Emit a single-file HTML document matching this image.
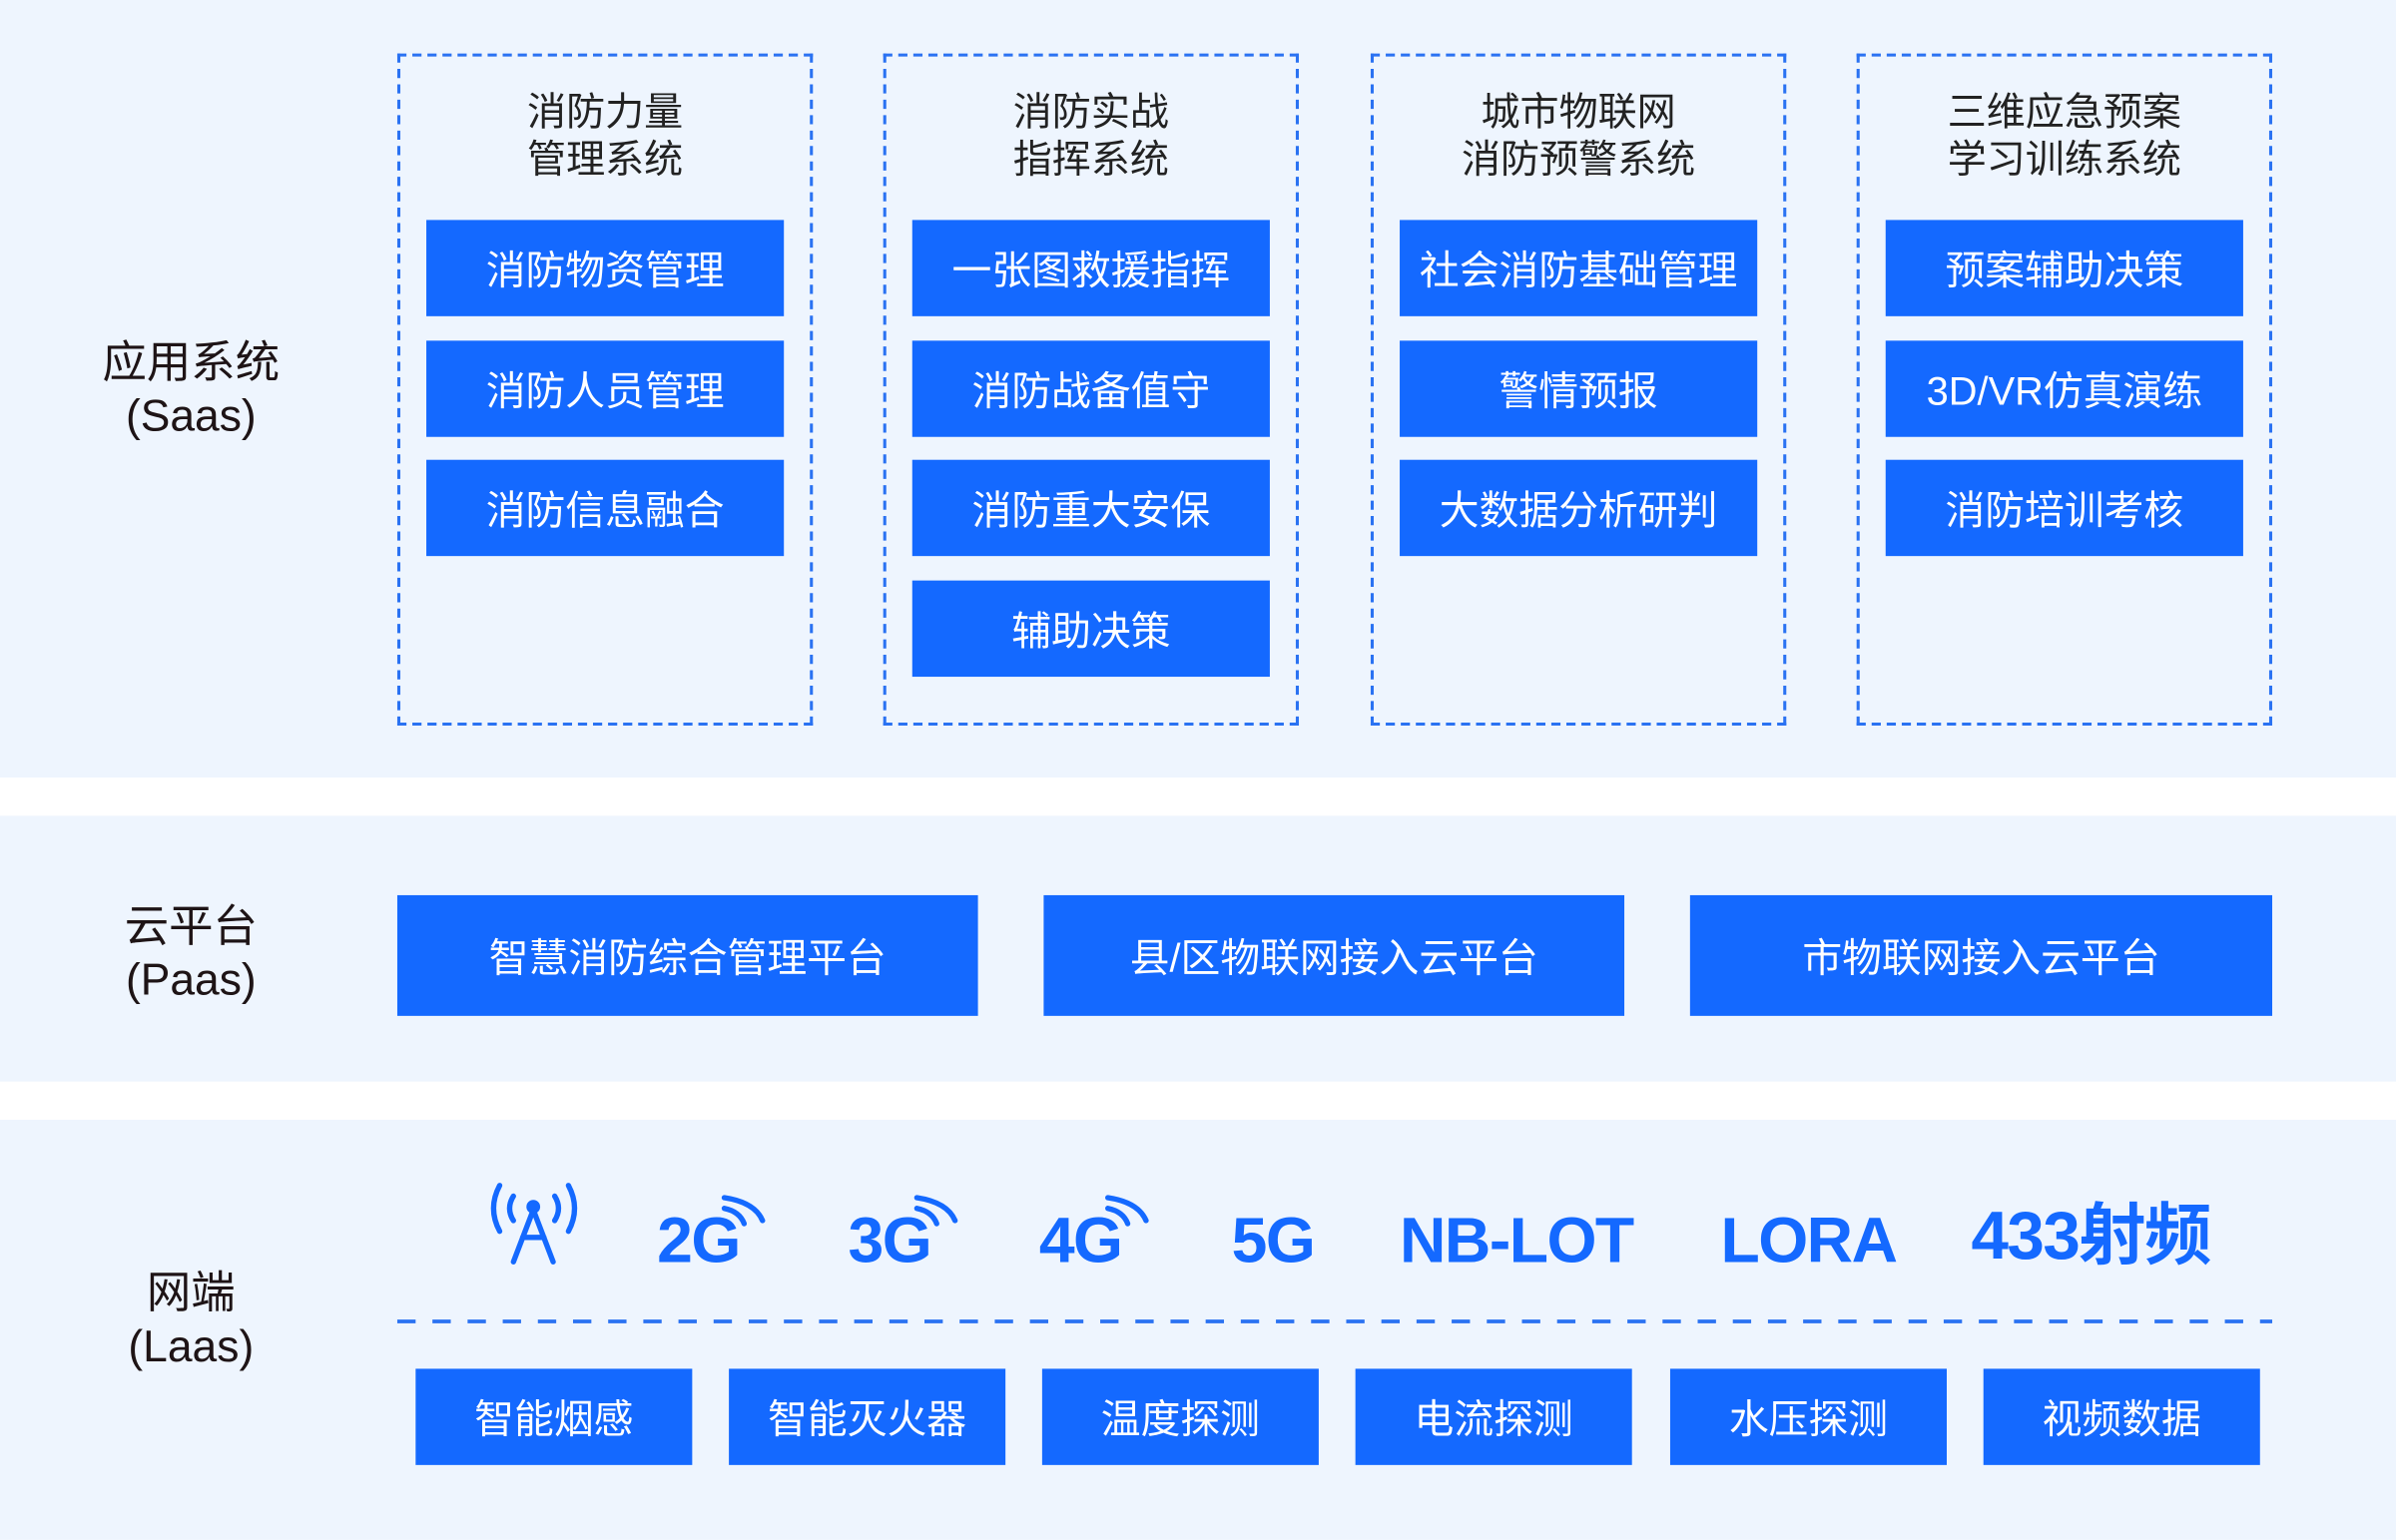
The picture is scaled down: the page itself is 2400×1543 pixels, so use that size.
<!DOCTYPE html>
<html><head><meta charset="utf-8"><style>
*{margin:0;padding:0;box-sizing:border-box}
html,body{width:2400px;height:1542px;overflow:hidden;background:#fff}
#w{position:absolute;left:0;top:0;width:1568px;height:1008px;transform:scale(1.53061);transform-origin:0 0;font-family:"Liberation Sans","Noto Sans CJK SC",sans-serif}
.band{position:absolute;left:0;width:1568px;background:#eef5fe}
.lab{position:absolute;left:35px;width:180px;text-align:center;color:#1e1416;font-size:29px;line-height:35px}
.dash{position:absolute;top:35px;width:272px;height:440px;border:2px dashed #2a72f2}
.tt{position:absolute;left:0;width:100%;top:22px;text-align:center;font-size:25.5px;line-height:31px;color:#222}
.b{position:absolute;background:#1469ff;color:#fff;display:flex;align-items:center;justify-content:center;font-size:26px;white-space:nowrap}
.n{position:absolute;top:786px;color:#1469ff;font-weight:bold;font-size:42px;line-height:52px;white-space:nowrap;letter-spacing:-1px}
</style></head><body><div id="w">
<div class="band" style="top:0;height:509px"></div>
<div class="band" style="top:534px;height:174px"></div>
<div class="band" style="top:733px;height:275px"></div>

<div class="lab" style="top:221px">应用系统<br>(Saas)</div>
<div class="lab" style="top:590px">云平台<br>(Paas)</div>
<div class="lab" style="top:830px">网端<br>(Laas)</div>

<div class="dash" style="left:260px"><div class="tt">消防力量<br>管理系统</div></div>
<div class="dash" style="left:578px"><div class="tt">消防实战<br>指挥系统</div></div>
<div class="dash" style="left:897px"><div class="tt">城市物联网<br>消防预警系统</div></div>
<div class="dash" style="left:1215px"><div class="tt">三维应急预案<br>学习训练系统</div></div>

<div class="b" style="left:279px;top:144px;width:234px;height:63px">消防物资管理</div>
<div class="b" style="left:279px;top:223px;width:234px;height:63px">消防人员管理</div>
<div class="b" style="left:279px;top:301px;width:234px;height:63px">消防信息融合</div>

<div class="b" style="left:597px;top:144px;width:234px;height:63px">一张图救援指挥</div>
<div class="b" style="left:597px;top:223px;width:234px;height:63px">消防战备值守</div>
<div class="b" style="left:597px;top:301px;width:234px;height:63px">消防重大安保</div>
<div class="b" style="left:597px;top:380px;width:234px;height:63px">辅助决策</div>

<div class="b" style="left:916px;top:144px;width:234px;height:63px">社会消防基础管理</div>
<div class="b" style="left:916px;top:223px;width:234px;height:63px">警情预报</div>
<div class="b" style="left:916px;top:301px;width:234px;height:63px">大数据分析研判</div>

<div class="b" style="left:1234px;top:144px;width:234px;height:63px">预案辅助决策</div>
<div class="b" style="left:1234px;top:223px;width:234px;height:63px">3D/VR仿真演练</div>
<div class="b" style="left:1234px;top:301px;width:234px;height:63px">消防培训考核</div>

<div class="b" style="left:260px;top:586px;width:380px;height:79px">智慧消防综合管理平台</div>
<div class="b" style="left:683px;top:586px;width:380px;height:79px">县/区物联网接入云平台</div>
<div class="b" style="left:1106px;top:586px;width:381px;height:79px">市物联网接入云平台</div>

<svg style="position:absolute;left:0;top:0" width="1568" height="1008">
<g fill="none" stroke="#1469ff" stroke-width="3.5" stroke-linecap="round">
<path d="M327 776 Q319 791 327 806"/><path d="M336 783 Q331 791 336 799"/>
<path d="M372 776 Q380 791 372 806"/><path d="M363 783 Q368 791 363 799"/>
<path d="M349 792 L336 826 M349 792 L362 826 M342 810 L356 810"/>
<path d="M474 784 Q494 787 499 799"/><path d="M474 791 Q484 793 487 801"/>
<path d="M600 784 Q620 787 625 799"/><path d="M600 791 Q610 793 613 801"/>
<path d="M725 784 Q745 787 750 799"/><path d="M725 791 Q735 793 738 801"/>
</g>
<circle cx="349" cy="790" r="4.5" fill="#1469ff"/>
<line x1="260" y1="865" x2="1487" y2="865" stroke="#2a72f2" stroke-width="2.5" stroke-dasharray="12,11"/>
</svg>
<div class="n" style="left:430px">2G</div>
<div class="n" style="left:555px">3G</div>
<div class="n" style="left:680px">4G</div>
<div class="n" style="left:806px">5G</div>
<div class="n" style="left:916px">NB-LOT</div>
<div class="n" style="left:1126px">LORA</div>
<div class="n" style="left:1290px;font-size:44px;top:784px">433射频</div>

<div class="b" style="left:272px;top:896px;width:181px;height:63px">智能烟感</div>
<div class="b" style="left:477px;top:896px;width:181px;height:63px">智能灭火器</div>
<div class="b" style="left:682px;top:896px;width:181px;height:63px">温度探测</div>
<div class="b" style="left:887px;top:896px;width:181px;height:63px">电流探测</div>
<div class="b" style="left:1093px;top:896px;width:181px;height:63px">水压探测</div>
<div class="b" style="left:1298px;top:896px;width:181px;height:63px">视频数据</div>
</div></body></html>
